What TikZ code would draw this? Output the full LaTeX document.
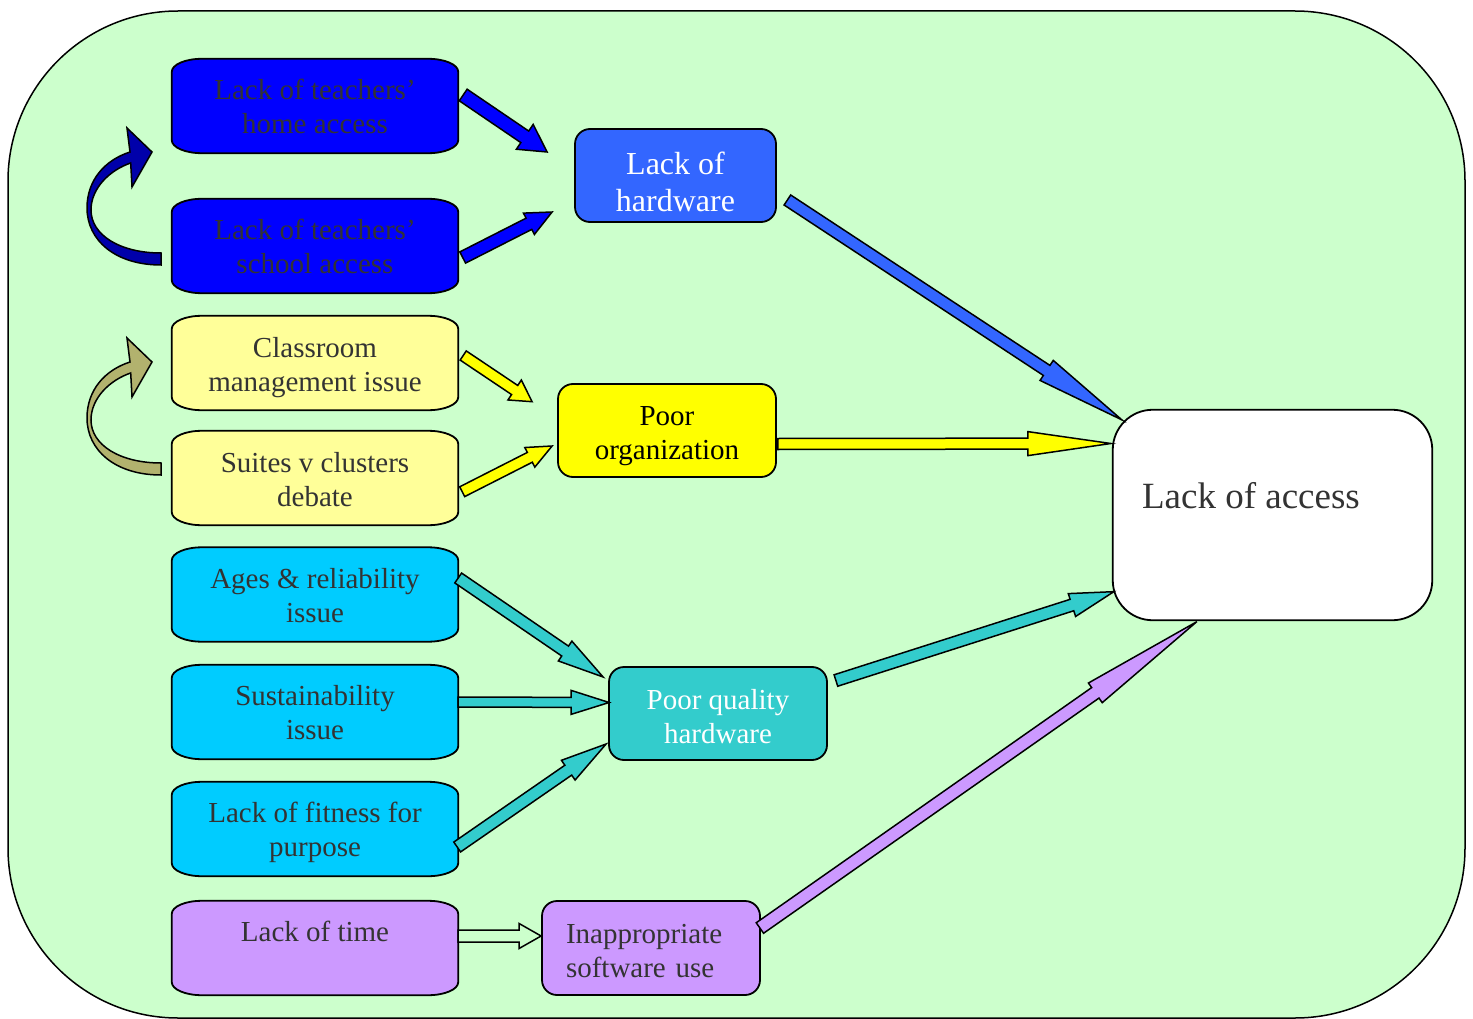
\documentclass[tikz,border=0pt]{standalone}
\usepackage{fontspec}
\setmainfont{Liberation Serif}
\usetikzlibrary{calc}
\pgfdeclarelayer{background}
\pgfdeclarelayer{boxes}
\pgfsetlayers{background,boxes,main}

\definecolor{bggreen}{HTML}{CCFFCC}
\definecolor{boxblue}{HTML}{0000FF}
\definecolor{hwblue}{HTML}{3366FF}
\definecolor{paleyellow}{HTML}{FFFF99}
\definecolor{brightyellow}{HTML}{FFFF00}
\definecolor{skycyan}{HTML}{00CCFF}
\definecolor{teal}{HTML}{33CCCC}
\definecolor{lilac}{HTML}{CC99FF}
\definecolor{curlblue}{HTML}{0000AA}
\definecolor{khaki}{HTML}{B2B26E}
\definecolor{txt}{HTML}{333333}

% block arrow: #1 style, #2 tail, #3 tip, #4 shaft half width,
% #5 head half width, #6 head length
\newcommand\blockarrow[6]{%
  \coordinate (ba-head) at ($(#3)!#6!(#2)$);
  \draw[#1] ($(#2)!#4!90:(#3)$) -- ($(ba-head)!#4!90:(#3)$)
    -- ($(ba-head)!#5!90:(#3)$) -- (#3)
    -- ($(ba-head)!#5!-90:(#3)$) -- ($(ba-head)!#4!-90:(#3)$)
    -- ($(#2)!#4!-90:(#3)$) -- cycle;}

\tikzset{
  leftbox/.style={minimum width=286pt, minimum height=94pt, inner sep=0pt,
    align=center, text=txt, font=\fontsize{29}{34}\selectfont},
  midbox/.style={draw=black, line width=1.8pt, rounded corners=15pt,
    minimum height=93pt, inner sep=0pt},
  midtext/.style={inner sep=0pt, align=center, font=\fontsize{29}{34}\selectfont},
  boxline/.style={draw=black, line width=1.8pt},
  arrline/.style={draw=black, line width=1.5pt, line join=miter},
  curl/.pic={
    \draw[pic actions] (161,265) .. controls (115,265) and (87,240) .. (87,208)
      .. controls (87,180) and (105,160) .. (130,152) -- (127,128) -- (152,152)
      -- (132,187) -- (130.7,163) .. controls (110,170) and (91,188) .. (91,210)
      .. controls (91,235) and (120,253) .. (161,253) -- cycle;}
}

\begin{document}
\begin{tikzpicture}[x=1pt,y=-1pt]
\useasboundingbox (0,0) rectangle (1473,1019);

\begin{pgfonlayer}{background}
  \fill[white] (0,0) rectangle (1473,1019);
  \draw[line width=1.5pt, fill=bggreen, rounded corners=170pt] (8,11) rectangle (1465,1018);
\end{pgfonlayer}

% causes on the left (node sits on its text; the outline is drawn \bd higher)
\node[leftbox] (home)      at (315,106)   {Lack of teachers'\\home access};
\node[leftbox] (school)    at (315,246.5) {Lack of teachers'\\school access};
\node[leftbox] (classroom) at (315,368)   {Classroom\\management issue};
\node[leftbox] (suites)    at (315,480)   {Suites v clusters\\debate};
\node[leftbox] (ages)      at (315,595.5) {Ages \& reliability\\issue};
\node[leftbox] (sustain)   at (315,713)   {Sustainability\\issue};
\node[leftbox] (fitness)   at (315,832)   {Lack of fitness for\\purpose};
\node[leftbox] (time)      at (315,948)   {Lack of time\\\mbox{}};

% barrel outlines behind the left texts
\begin{pgfonlayer}{boxes}
\foreach \bx/\bc/\bd in {home/boxblue/0, school/boxblue/0.5, classroom/paleyellow/5,
    suites/paleyellow/2, ages/skycyan/1, sustain/skycyan/1, fitness/skycyan/3, time/lilac/0}{
  \draw[boxline, fill=\bc] let \p1=($(\bx.south west)+(0,-\bd)$),
      \p2=($(\bx.north east)+(0,-\bd)$) in
    (\x1,\y1+13pt) -- (\x1,\y2-13pt)
    .. controls (\x1,\y2-5.8pt) and (\x1+13.4pt,\y2) .. (\x1+30pt,\y2)
    -- (\x2-30pt,\y2)
    .. controls (\x2-13.4pt,\y2) and (\x2,\y2-5.8pt) .. (\x2,\y2-13pt)
    -- (\x2,\y1+13pt)
    .. controls (\x2,\y1+5.8pt) and (\x2-13.4pt,\y1) .. (\x2-30pt,\y1)
    -- (\x1+30pt,\y1)
    .. controls (\x1+13.4pt,\y1) and (\x1,\y1+5.8pt) .. (\x1,\y1+13pt) -- cycle;
}
\end{pgfonlayer}

% intermediate effects
\node[midbox, fill=hwblue, minimum width=201pt,
      label={[midtext, text=white, font=\fontsize{32}{37}\selectfont, yshift=-6pt]center:{Lack of\\hardware}}]
      (hardware) at (675.5,175.5) {};
\node[midbox, fill=brightyellow, minimum width=218pt,
      label={[midtext, text=black, yshift=-6pt]center:{Poor\\organization}}]
      (porg) at (667,430.5) {};
\node[midbox, fill=teal, minimum width=218pt,
      label={[midtext, text=white, yshift=-3pt]center:{Poor quality\\hardware}}]
      (pqh) at (718,713.5) {};
\node[midbox, fill=lilac, minimum width=218pt, minimum height=94pt,
      label={[midtext, text=txt, align=left, text width=170pt, yshift=-3pt]center:{Inappropriate\\software use}}]
      (soft) at (651,948) {};

% final effect
\node[draw=black, line width=1.8pt, fill=white, rounded corners=40pt,
      minimum width=319.5pt, minimum height=210.5pt, inner sep=0pt] (access) at (1272.5,515) {};
\node[anchor=base west, inner sep=0pt, text=txt, font=\fontsize{37}{42}\selectfont]
      (accesslabel) at ($(access.west)+(30,-7)$) {Lack of access};

% curved feedback arrows
\pic[fill=curlblue, line width=1.5pt] at (0,0) {curl};
\pic[fill=khaki, line width=1.5pt] at (0,210) {curl};

% connector end points
\coordinate (a1s) at ($(home.east)+(5,-11)$);
\coordinate (a1e) at ($(hardware.west)+(-27,-23.5)$);
\coordinate (a2s) at ($(school.east)+(4.5,11)$);
\coordinate (a2e) at ($(hardware.west)+(-22,36.5)$);
\coordinate (a3s) at ($(classroom.east)+(5,-12.5)$);
\coordinate (a3e) at ($(porg.west)+(-25,-28.8)$);
\coordinate (a4s) at ($(suites.east)+(4,11.7)$);
\coordinate (a4e) at ($(porg.west)+(-5,15.5)$);
\coordinate (a5s) at ($(hardware.east)+(10.5,24.5)$);
\coordinate (a5e) at ($(access.north west)+(10,11)$);
\coordinate (a6s) at ($(porg.east)+(1,13.5)$);
\coordinate (a6e) at ($(access.west)+(-1,-71.5)$);
\coordinate (a7s) at ($(ages.east)+(0,-17.5)$);
\coordinate (a7e) at ($(pqh.west)+(-5,-36.5)$);
\coordinate (a8s) at ($(sustain.east)+(0,-11)$);
\coordinate (a8e) at ($(pqh.west)+(1,-11)$);
\coordinate (a9s) at ($(fitness.east)+(-1,15)$);
\coordinate (a9e) at ($(pqh.west)+(-2,30.5)$);
\coordinate (a10s) at ($(pqh.east)+(8,-33)$);
\coordinate (a10e) at ($(access.south west)+(2,-29.5)$);
\coordinate (a11s) at ($(time.east)+(0,-12)$);
\coordinate (a11e) at ($(soft.west)+(0,-12)$);
\coordinate (a12s) at ($(soft.east)+(-1,-20)$);
\coordinate (a12e) at ($(access.south west)+(85,0.5)$);

% block arrows
\blockarrow{arrline, fill=boxblue}{a1s}{a1e}{7pt}{15pt}{27pt}
\blockarrow{arrline, fill=boxblue}{a2s}{a2e}{6.3pt}{12pt}{26pt}
\blockarrow{arrline, fill=brightyellow}{a3s}{a3e}{5.5pt}{12pt}{21pt}
\blockarrow{arrline, fill=brightyellow}{a4s}{a4e}{5.5pt}{11pt}{25pt}
\blockarrow{arrline, fill=hwblue}{a5s}{a5e}{6pt}{12pt}{90pt}
\blockarrow{arrline, fill=brightyellow}{a6s}{a6e}{5.5pt}{12pt}{83pt}
\blockarrow{arrline, fill=teal}{a7s}{a7e}{6pt}{12pt}{46pt}
\blockarrow{arrline, fill=teal}{a8s}{a8e}{5pt}{12pt}{38pt}
\blockarrow{arrline, fill=teal}{a9s}{a9e}{6pt}{12pt}{46pt}
\blockarrow{arrline, fill=teal}{a10s}{a10e}{6pt}{12pt}{44pt}
\blockarrow{arrline, fill=bggreen}{a11s}{a11e}{6pt}{12.5pt}{22pt}
\blockarrow{arrline, fill=lilac}{a12s}{a12e}{6.4pt}{12pt}{124pt}
\end{tikzpicture}
\end{document}
